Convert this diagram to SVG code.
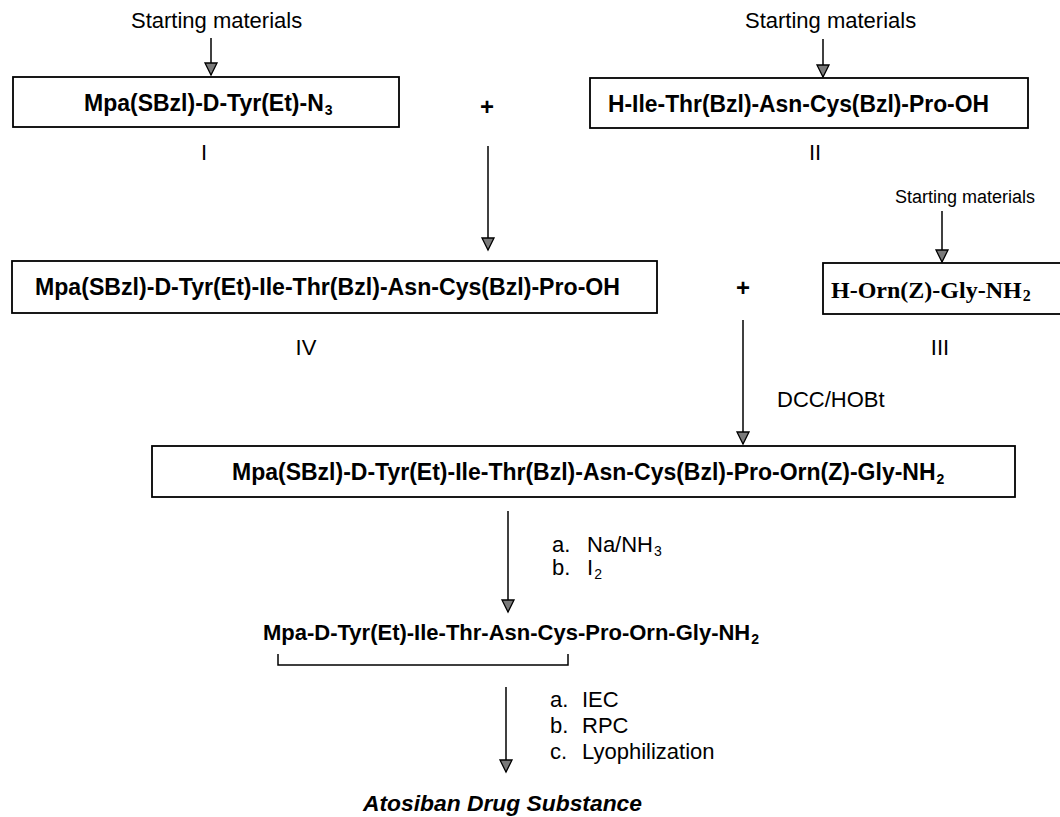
<svg xmlns="http://www.w3.org/2000/svg" width="1060" height="817" viewBox="0 0 1060 817">
<defs>
<marker id="ah" markerUnits="userSpaceOnUse" markerWidth="16" markerHeight="16" viewBox="-2 -8 16 16" refX="12" refY="0" orient="auto">
<path d="M0,-6 L12,0 L0,6 Z" fill="#7a7a7a" stroke="#000" stroke-width="1.3" stroke-linejoin="miter"/>
</marker>
<style>
text{font-family:"Liberation Sans",Arial,sans-serif;fill:#000}
.b{font-weight:bold;font-size:23px}
.r{font-size:22px}
.sm{font-size:22px}
.sub{font-size:14px}
.box{fill:#fff;stroke:#000;stroke-width:1.8}
.ln{stroke:#000;stroke-width:1.5;fill:none}
.arr{stroke:#000;stroke-width:1.5;fill:none;marker-end:url(#ah)}
.tm{font-family:"Liberation Serif","Times New Roman",serif;font-weight:bold;font-size:24px}
.ttl{font-weight:bold;font-style:italic;font-size:22.5px}
.plus{font-size:24px;font-weight:bold}
</style>
</defs>
<rect width="1060" height="817" fill="#fff"/>

<g id="connectors">
<line class="arr" x1="211" y1="38" x2="211" y2="75"/>
<line class="arr" x1="823" y1="39" x2="823" y2="77"/>
<line class="arr" x1="942" y1="211" x2="942" y2="262"/>
<line class="arr" x1="488" y1="146" x2="488" y2="250"/>
<line class="arr" x1="743" y1="320" x2="743" y2="444"/>
<line class="arr" x1="508" y1="511" x2="508" y2="612"/>
<line class="arr" x1="506" y1="687" x2="506" y2="772"/>
</g>

<g id="sm1"><text class="sm" x="131" y="28">Starting materials</text></g>
<g id="sm2"><text class="sm" x="745" y="28">Starting materials</text></g>
<g id="sm3"><text style="font-size:18px" x="895" y="203">Starting materials</text></g>

<g id="nodeI">
<rect class="box" x="13" y="77" width="386" height="50"/>
<text class="b" x="84" y="111">Mpa(SBzl)-D-Tyr(Et)-N<tspan class="sub" dx="1" dy="4">3</tspan></text>
<text class="r" x="204" y="160" text-anchor="middle">I</text>
</g>

<g id="plus1"><text class="plus" x="487" y="115" text-anchor="middle">+</text></g>

<g id="nodeII">
<rect class="box" x="590" y="78" width="438" height="50"/>
<text class="b" x="608" y="112" textLength="381" lengthAdjust="spacingAndGlyphs">H-Ile-Thr(Bzl)-Asn-Cys(Bzl)-Pro-OH</text>
<text class="r" x="815" y="160" text-anchor="middle">II</text>
</g>

<g id="nodeIV">
<rect class="box" x="12" y="261" width="645" height="52"/>
<text class="b" x="35" y="295" textLength="585" lengthAdjust="spacingAndGlyphs">Mpa(SBzl)-D-Tyr(Et)-Ile-Thr(Bzl)-Asn-Cys(Bzl)-Pro-OH</text>
<text class="r" x="306" y="355" text-anchor="middle">IV</text>
</g>

<g id="plus2"><text class="plus" x="743" y="296" text-anchor="middle">+</text></g>

<g id="nodeIII">
<rect class="box" x="823" y="263" width="250" height="51"/>
<text class="tm" x="831" y="298">H-Orn(Z)-Gly-NH<tspan style="font-size:16px" dx="1" dy="3">2</tspan></text>
<text class="r" x="940" y="355" text-anchor="middle">III</text>
</g>

<g id="reagent1"><text class="r" x="777" y="407">DCC/HOBt</text></g>

<g id="nodeV">
<rect class="box" x="152" y="446" width="863" height="51"/>
<text class="b" x="232" y="480">Mpa(SBzl)-D-Tyr(Et)-Ile-Thr(Bzl)-Asn-Cys(Bzl)-Pro-Orn(Z)-Gly-NH<tspan class="sub" dx="1" dy="4">2</tspan></text>
</g>

<g id="reagent2">
<text class="r" x="552" y="552">a.</text><text class="r" x="587" y="552">Na/NH<tspan class="sub" dx="1" dy="4">3</tspan></text>
<text class="r" x="552" y="575">b.</text><text class="r" x="587" y="575">I<tspan class="sub" dx="1" dy="4">2</tspan></text>
</g>

<g id="nodeVI">
<text class="b" style="font-size:22px" x="263" y="640">Mpa-D-Tyr(Et)-Ile-Thr-Asn-Cys-Pro-Orn-Gly-NH<tspan class="sub" dx="1" dy="4">2</tspan></text>
<path class="ln" d="M278,654 V665 H568 V654"/>
</g>

<g id="reagent3">
<text class="r" x="550" y="707">a.</text><text class="r" x="582" y="707">IEC</text>
<text class="r" x="550" y="733">b.</text><text class="r" x="582" y="733">RPC</text>
<text class="r" x="550" y="759">c.</text><text class="r" x="582" y="759">Lyophilization</text>
</g>

<g id="product"><text class="ttl" x="363" y="811" textLength="279" lengthAdjust="spacingAndGlyphs">Atosiban Drug Substance</text></g>
</svg>
